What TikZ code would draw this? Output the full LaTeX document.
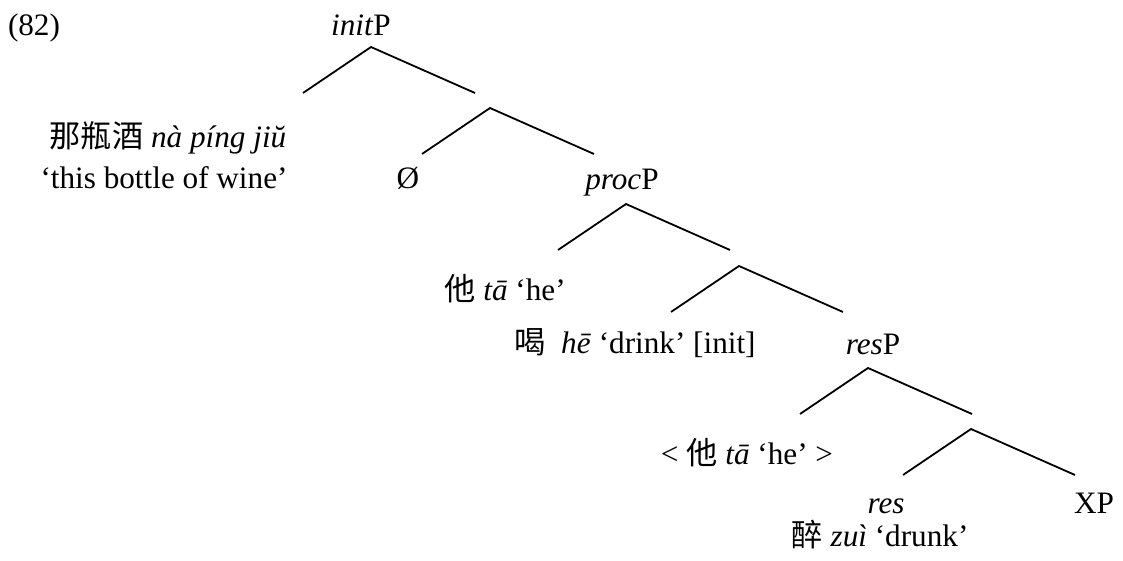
\documentclass[tikz,border=0pt]{standalone}
\usepackage{fontspec}
\setmainfont{Liberation Serif}
\newfontfamily\cjk{Noto Sans CJK SC}
\usetikzlibrary{positioning}

\begin{document}
\begin{tikzpicture}[x=0.5pt, y=-0.5pt,
        word/.style={anchor=base, inner sep=0pt, font=\fontsize{15.6}{18}\selectfont},
        branch/.style={line width=0.9pt}]
        \useasboundingbox (0,0) rectangle (1123,561);

        % labels
        \node[word] (ex)     at (34,36)   {(82)};
        \node[word] (initP)  at (361,36)  {\textit{init}P};
        \node[word] (wine)   at (168,148) {{\cjk 那瓶酒} \textit{nà píng jiŭ}};
        \node[word] (winegl) at (164,189) {‘this bottle of wine’};
        \node[word] (null)   at (408,189) {Ø};
        \node[word] (procP)  at (622,190) {\textit{proc}P};
        \node[word] (he)     at (505,300) {{\cjk 他} \textit{tā} ‘he’};
        \node[word] (drink)  at (635,353) {{\cjk 喝}\ \ \textit{hē} ‘drink’ [init]};
        \node[word] (resP)   at (873,354) {\textit{res}P};
        \node[word] (hecopy) at (747,464) {< {\cjk 他} \textit{tā} ‘he’ >};
        \node[word] (res)    at (886,513) {\textit{res}};
        \node[word] (XP)     at (1094,513) {XP};
        \node[word] (drunk)  at (880,546) {{\cjk 醉} \textit{zuì} ‘drunk’};

        % branching points
        \coordinate (a1) at (371,47);
        \coordinate (a2) at (490,108);
        \coordinate (a3) at (626,204);
        \coordinate (a4) at (739,266);
        \coordinate (a5) at (868,368);
        \coordinate (a6) at (971,429);

        \coordinate (l1) at ([shift={(-68,46)}]a1);
        \coordinate (r1) at ([shift={(104,46)}]a1);
        \coordinate (l2) at ([shift={(-68,46)}]a2);
        \coordinate (r2) at ([shift={(104,46)}]a2);
        \coordinate (l3) at ([shift={(-68,46)}]a3);
        \coordinate (r3) at ([shift={(104,46)}]a3);
        \coordinate (l4) at ([shift={(-68,46)}]a4);
        \coordinate (r4) at ([shift={(104,46)}]a4);
        \coordinate (l5) at ([shift={(-68,46)}]a5);
        \coordinate (r5) at ([shift={(104,46)}]a5);
        \coordinate (l6) at ([shift={(-68,46)}]a6);
        \coordinate (r6) at ([shift={(104,46)}]a6);

        \draw[branch] (l1) -- (a1) -- (r1);
        \draw[branch] (l2) -- (a2) -- (r2);
        \draw[branch] (l3) -- (a3) -- (r3);
        \draw[branch] (l4) -- (a4) -- (r4);
        \draw[branch] (l5) -- (a5) -- (r5);
        \draw[branch] (l6) -- (a6) -- (r6);
\end{tikzpicture}
\end{document}
